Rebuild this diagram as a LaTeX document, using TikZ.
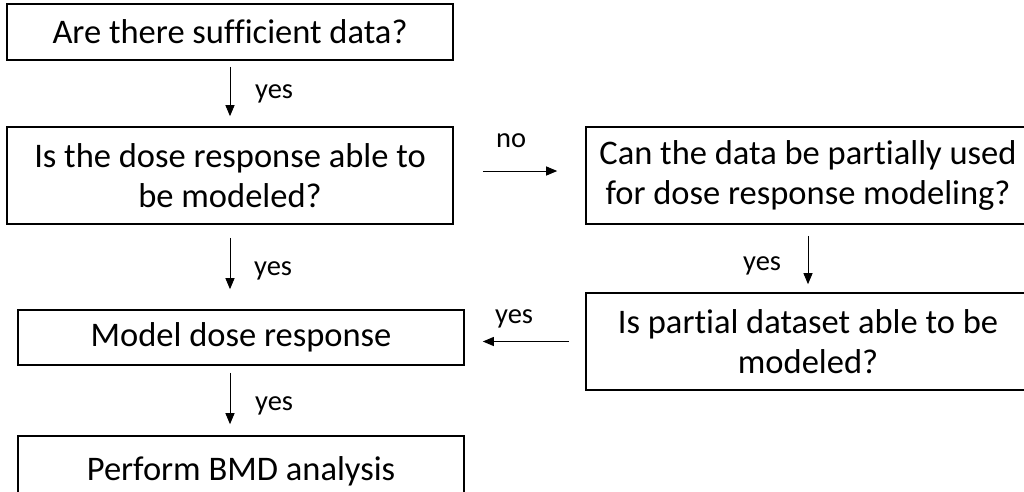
\documentclass[tikz,border=0pt]{standalone}
\usepackage{fontspec}
\setmainfont{Carlito}[Ligatures=NoCommon]
\usetikzlibrary{arrows.meta,calc}
\begin{document}
\begin{tikzpicture}[x=1pt,y=-1pt,
  box/.style={draw, line width=1.6pt, inner sep=0pt, align=center,
    font=\fontsize{34.5}{40}\selectfont, minimum width=446pt},
  arr/.style={-{Triangle[length=11pt,width=9pt]}, line width=1pt},
  lbl/.style={inner sep=0pt, anchor=base west, font=\fontsize{28.5}{34}\selectfont}]
\useasboundingbox (0,0) rectangle (1024,491);
\clip (0,0) rectangle (1024,491);
\node[box, minimum height=56pt] (q1) at (230,32) {Are there sufficient data?};
\node[box, minimum height=97pt] (q2) at (230,175.5) {Is the dose response able to\\be modeled?};
\node[box, minimum width=444pt, minimum height=97pt] (q3) at (808,175.5) {Can the data be partially used\\for dose response modeling?};
\node[box, minimum width=444pt, minimum height=97pt] (q4) at (808,341.5) {Is partial dataset able to be\\modeled?};
\node[box, minimum height=55pt] (model) at (241,337.5) {Model dose response};
\node[box, minimum height=71pt] (bmd) at (241,471.5) {Perform BMD analysis};

\draw[arr, shorten <=6pt, shorten >=10pt] (q1.south) -- (q2.north);
\draw[arr, shorten <=13pt, shorten >=20pt] (q2.south) -- (q2.south |- model.north);
\draw[arr, shorten <=7pt, shorten >=11pt] (model.south -| q2.south) -- (q2.south |- bmd.north);
\draw[arr, shorten <=29pt, shorten >=28pt] ([yshift=4.5pt]q2.east) -- ([yshift=4.5pt]q2.east -| q3.west);
\draw[arr, shorten <=16pt, shorten >=18pt] (q4.west) -- (q4.west -| model.east);
\draw[arr, shorten <=11pt, shorten >=8pt] (q3.south) -- (q4.north);

\node[lbl] (l1) at (255,98) {yes};
\node[lbl] (l2) at (254,275) {yes};
\node[lbl] (l3) at (255,410) {yes};
\node[lbl] (l4) at (496,147) {no};
\node[lbl] (l5) at (495,323) {yes};
\node[lbl] (l6) at (743,270) {yes};
\end{tikzpicture}
\end{document}
